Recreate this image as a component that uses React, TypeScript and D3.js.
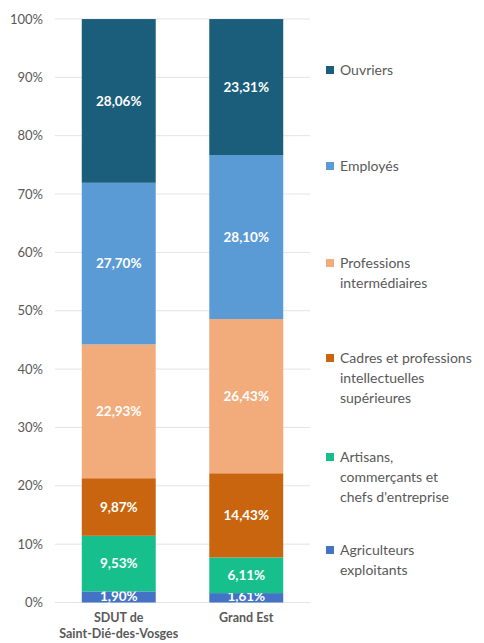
import React from "react";
import * as d3 from "d3";

const categories = ["SDUT de\nSaint-Dié-des-Vosges", "Grand Est"];
const seriesNames = [
  "Agriculteurs exploitants",
  "Artisans, commerçants et chefs d'entreprise",
  "Cadres et professions intellectuelles supérieures",
  "Professions intermédiaires",
  "Employés",
  "Ouvriers",
];
const legendLines = [
  ["Agriculteurs", "exploitants"],
  ["Artisans,", "commerçants et", "chefs d'entreprise"],
  ["Cadres et professions", "intellectuelles", "supérieures"],
  ["Professions", "intermédiaires"],
  ["Employés"],
  ["Ouvriers"],
];
const sdutValues = [1.9, 9.53, 9.87, 22.93, 27.7, 28.06];
const grandEstValues = [1.61, 6.11, 14.43, 26.43, 28.1, 23.31];
const colors = ["#4472c4", "#16bf8c", "#c9650e", "#f2ac7c", "#5b9bd5", "#1a5e7b"];
const yTicks = [0, 10, 20, 30, 40, 50, 60, 70, 80, 90, 100];
const legendCenters = [550, 457, 358, 263, 166, 70];

const W = 484;
const H = 643;

export default function App() {
  const x = d3.scaleBand<string>().domain(categories).range([55, 310]).paddingInner(0.42).paddingOuter(0.21);
  const y = d3.scaleLinear().domain([0, 100]).range([602.5, 19]);
  const data = categories.map((c, i) => {
    const vals = i === 0 ? sdutValues : grandEstValues;
    const obj: any = { cat: c };
    seriesNames.forEach((s, j) => (obj[s] = vals[j]));
    return obj;
  });
  const stack = d3.stack<any>().keys(seriesNames)(data);
  const fmt = (v: number) => v.toFixed(2).replace(".", ",") + "%";
  const font = "Lato, 'Open Sans', sans-serif";

  return (
    <svg width={W} height={H} style={{ position: "absolute", left: 0, top: 0, background: "#fff" }} fontFamily={font}>
      {yTicks.map((t) => (
        <g key={t}>
          <line x1={55} x2={310} y1={y(t)} y2={y(t)} stroke="#e3e3e3" strokeWidth={1} />
          <text x={43} y={y(t)} dy="0.35em" textAnchor="end" fontSize={13} fill="#595959">
            {t}%
          </text>
        </g>
      ))}
      {stack.map((layer, si) =>
        layer.map((d, ci) => {
          const cat = categories[ci];
          const x0 = x(cat)!;
          const y0 = y(d[1]);
          const y1 = y(d[0]);
          return (
            <g key={si + "-" + ci}>
              <rect x={x0} y={y0} width={x.bandwidth()} height={y1 - y0} fill={colors[si]} />
              <text
                x={x0 + x.bandwidth() / 2}
                y={si === 0 ? y1 - 1 : (y0 + y1) / 2}
                dy={si === 0 ? "-0.05em" : "0.35em"}
                textAnchor="middle"
                fontSize={13.5}
                fontWeight="bold"
                fill="#ffffff"
              >
                {fmt(d[1] - d[0])}
              </text>
            </g>
          );
        })
      )}
      {categories.map((c) => (
        <text key={c} x={x(c)! + x.bandwidth() / 2} y={622} textAnchor="middle" fontSize={12.5} fontWeight="bold" fill="#595959">
          {c.split("\n").map((l, i) => (
            <tspan key={i} x={x(c)! + x.bandwidth() / 2} dy={i === 0 ? 0 : 16}>
              {l}
            </tspan>
          ))}
        </text>
      ))}
      {legendLines.map((lines, i) => (
        <g key={i}>
          <rect x={326} y={legendCenters[i] - 4} width={8} height={8} fill={colors[i]} />
          <text x={340} y={legendCenters[i] + 5} fontSize={14} fill="#595959">
            {lines.map((l, k) => (
              <tspan key={k} x={340} dy={k === 0 ? 0 : 20}>
                {l}
              </tspan>
            ))}
          </text>
        </g>
      ))}
    </svg>
  );
}
